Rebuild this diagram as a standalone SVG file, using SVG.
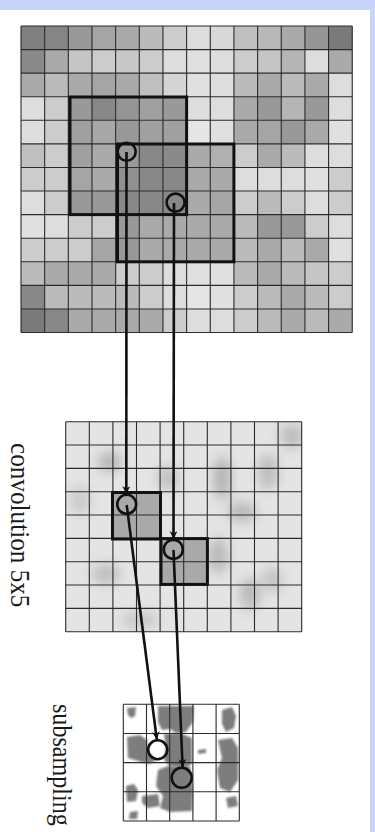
<svg xmlns="http://www.w3.org/2000/svg" width="375" height="832" viewBox="0 0 375 832">
<style>
.c rect{stroke:none}
.grid{fill:none;stroke:#2b2b2b;stroke-width:1.1}
.win{fill:none;stroke:#111;stroke-width:3}
.ring{fill:none;stroke:#111;stroke-width:2.6}
.conn{stroke:#111;stroke-width:2.6;fill:none;marker-end:url(#ah)}
.lbl{font-family:"Liberation Serif","DejaVu Serif",serif;font-size:28px;fill:#1a1a1a}
.blob{fill:#8f8f8f;filter:url(#bl)}
.dark{fill:#7d7d7d;filter:url(#bl2)}
</style>
<defs>
<marker id="ah" viewBox="0 0 10 10" refX="10" refY="5" markerWidth="9" markerHeight="8" markerUnits="userSpaceOnUse" orient="auto">
<path d="M0,0 L10,5 L0,10 L3,5 Z" fill="#111"/>
</marker>
<filter id="bl" x="-50%" y="-50%" width="200%" height="200%"><feGaussianBlur stdDeviation="6"/></filter>
<filter id="bl2" x="-20%" y="-20%" width="140%" height="140%"><feGaussianBlur stdDeviation="1.2"/></filter>
<clipPath id="mclip"><rect x="65.7" y="421.7" width="236" height="210"/></clipPath>
<clipPath id="sclip"><rect x="123.3" y="704.3" width="116" height="116.7"/></clipPath>
</defs>
<rect x="0" y="0" width="375" height="832" fill="#c9d4fa"/>
<rect x="0" y="10" width="370" height="822" fill="#ffffff"/>

<g id="input-map">
<g class="c">
<g transform="translate(0,26)">
<rect x="21" width="23.7" height="23.6" fill="#808080"/><rect x="44.66" width="23.7" height="23.6" fill="#858585"/><rect x="68.32" width="23.7" height="23.6" fill="#999999"/><rect x="91.98" width="23.7" height="23.6" fill="#a5a5a5"/><rect x="115.64" width="23.7" height="23.6" fill="#aaaaaa"/><rect x="139.3" width="23.7" height="23.6" fill="#bbbbbb"/><rect x="162.96" width="23.7" height="23.6" fill="#cccccc"/><rect x="186.62" width="23.7" height="23.6" fill="#dddddd"/><rect x="210.28" width="23.7" height="23.6" fill="#d8d8d8"/><rect x="233.94" width="23.7" height="23.6" fill="#c0c0c0"/><rect x="257.6" width="23.7" height="23.6" fill="#b8b8b8"/><rect x="281.26" width="23.7" height="23.6" fill="#aaaaaa"/><rect x="304.92" width="23.7" height="23.6" fill="#959595"/><rect x="328.58" width="23.7" height="23.6" fill="#7a7a7a"/>
</g>
<g transform="translate(0,49.58)">
<rect x="21" width="23.7" height="23.6" fill="#8a8a8a"/><rect x="44.66" width="23.7" height="23.6" fill="#aaaaaa"/><rect x="68.32" width="23.7" height="23.6" fill="#c5c5c5"/><rect x="91.98" width="23.7" height="23.6" fill="#cccccc"/><rect x="115.64" width="23.7" height="23.6" fill="#c8c8c8"/><rect x="139.3" width="23.7" height="23.6" fill="#cccccc"/><rect x="162.96" width="23.7" height="23.6" fill="#dddddd"/><rect x="186.62" width="23.7" height="23.6" fill="#e0e0e0"/><rect x="210.28" width="23.7" height="23.6" fill="#dddddd"/><rect x="233.94" width="23.7" height="23.6" fill="#cccccc"/><rect x="257.6" width="23.7" height="23.6" fill="#c5c5c5"/><rect x="281.26" width="23.7" height="23.6" fill="#b5b5b5"/><rect x="304.92" width="23.7" height="23.6" fill="#dddddd"/><rect x="328.58" width="23.7" height="23.6" fill="#aaaaaa"/>
</g>
<g transform="translate(0,73.16)">
<rect x="21" width="23.7" height="23.6" fill="#aaaaaa"/><rect x="44.66" width="23.7" height="23.6" fill="#bbbbbb"/><rect x="68.32" width="23.7" height="23.6" fill="#aaaaaa"/><rect x="91.98" width="23.7" height="23.6" fill="#a5a5a5"/><rect x="115.64" width="23.7" height="23.6" fill="#aaaaaa"/><rect x="139.3" width="23.7" height="23.6" fill="#c0c0c0"/><rect x="162.96" width="23.7" height="23.6" fill="#d5d5d5"/><rect x="186.62" width="23.7" height="23.6" fill="#e0e0e0"/><rect x="210.28" width="23.7" height="23.6" fill="#dddddd"/><rect x="233.94" width="23.7" height="23.6" fill="#bbbbbb"/><rect x="257.6" width="23.7" height="23.6" fill="#aaaaaa"/><rect x="281.26" width="23.7" height="23.6" fill="#bbbbbb"/><rect x="304.92" width="23.7" height="23.6" fill="#aaaaaa"/><rect x="328.58" width="23.7" height="23.6" fill="#dddddd"/>
</g>
<g transform="translate(0,96.74)">
<rect x="21" width="23.7" height="23.6" fill="#dddddd"/><rect x="44.66" width="23.7" height="23.6" fill="#cccccc"/><rect x="68.32" width="23.7" height="23.6" fill="#999999"/><rect x="91.98" width="23.7" height="23.6" fill="#888888"/><rect x="115.64" width="23.7" height="23.6" fill="#959595"/><rect x="139.3" width="23.7" height="23.6" fill="#a0a0a0"/><rect x="162.96" width="23.7" height="23.6" fill="#999999"/><rect x="186.62" width="23.7" height="23.6" fill="#dddddd"/><rect x="210.28" width="23.7" height="23.6" fill="#dddddd"/><rect x="233.94" width="23.7" height="23.6" fill="#aaaaaa"/><rect x="257.6" width="23.7" height="23.6" fill="#999999"/><rect x="281.26" width="23.7" height="23.6" fill="#b5b5b5"/><rect x="304.92" width="23.7" height="23.6" fill="#999999"/><rect x="328.58" width="23.7" height="23.6" fill="#dddddd"/>
</g>
<g transform="translate(0,120.32)">
<rect x="21" width="23.7" height="23.6" fill="#dddddd"/><rect x="44.66" width="23.7" height="23.6" fill="#cccccc"/><rect x="68.32" width="23.7" height="23.6" fill="#a0a0a0"/><rect x="91.98" width="23.7" height="23.6" fill="#a8a8a8"/><rect x="115.64" width="23.7" height="23.6" fill="#999999"/><rect x="139.3" width="23.7" height="23.6" fill="#a0a0a0"/><rect x="162.96" width="23.7" height="23.6" fill="#a0a0a0"/><rect x="186.62" width="23.7" height="23.6" fill="#e5e5e5"/><rect x="210.28" width="23.7" height="23.6" fill="#e0e0e0"/><rect x="233.94" width="23.7" height="23.6" fill="#aaaaaa"/><rect x="257.6" width="23.7" height="23.6" fill="#a5a5a5"/><rect x="281.26" width="23.7" height="23.6" fill="#999999"/><rect x="304.92" width="23.7" height="23.6" fill="#aaaaaa"/><rect x="328.58" width="23.7" height="23.6" fill="#e0e0e0"/>
</g>
<g transform="translate(0,143.9)">
<rect x="21" width="23.7" height="23.6" fill="#c0c0c0"/><rect x="44.66" width="23.7" height="23.6" fill="#cccccc"/><rect x="68.32" width="23.7" height="23.6" fill="#a0a0a0"/><rect x="91.98" width="23.7" height="23.6" fill="#aaaaaa"/><rect x="115.64" width="23.7" height="23.6" fill="#999999"/><rect x="139.3" width="23.7" height="23.6" fill="#888888"/><rect x="162.96" width="23.7" height="23.6" fill="#8a8a8a"/><rect x="186.62" width="23.7" height="23.6" fill="#aaaaaa"/><rect x="210.28" width="23.7" height="23.6" fill="#b0b0b0"/><rect x="233.94" width="23.7" height="23.6" fill="#cccccc"/><rect x="257.6" width="23.7" height="23.6" fill="#aaaaaa"/><rect x="281.26" width="23.7" height="23.6" fill="#bbbbbb"/><rect x="304.92" width="23.7" height="23.6" fill="#dddddd"/><rect x="328.58" width="23.7" height="23.6" fill="#dddddd"/>
</g>
<g transform="translate(0,167.48)">
<rect x="21" width="23.7" height="23.6" fill="#cccccc"/><rect x="44.66" width="23.7" height="23.6" fill="#cccccc"/><rect x="68.32" width="23.7" height="23.6" fill="#a5a5a5"/><rect x="91.98" width="23.7" height="23.6" fill="#aaaaaa"/><rect x="115.64" width="23.7" height="23.6" fill="#909090"/><rect x="139.3" width="23.7" height="23.6" fill="#888888"/><rect x="162.96" width="23.7" height="23.6" fill="#888888"/><rect x="186.62" width="23.7" height="23.6" fill="#aaaaaa"/><rect x="210.28" width="23.7" height="23.6" fill="#aaaaaa"/><rect x="233.94" width="23.7" height="23.6" fill="#dddddd"/><rect x="257.6" width="23.7" height="23.6" fill="#dddddd"/><rect x="281.26" width="23.7" height="23.6" fill="#dddddd"/><rect x="304.92" width="23.7" height="23.6" fill="#e0e0e0"/><rect x="328.58" width="23.7" height="23.6" fill="#cccccc"/>
</g>
<g transform="translate(0,191.06)">
<rect x="21" width="23.7" height="23.6" fill="#dddddd"/><rect x="44.66" width="23.7" height="23.6" fill="#cccccc"/><rect x="68.32" width="23.7" height="23.6" fill="#999999"/><rect x="91.98" width="23.7" height="23.6" fill="#999999"/><rect x="115.64" width="23.7" height="23.6" fill="#888888"/><rect x="139.3" width="23.7" height="23.6" fill="#888888"/><rect x="162.96" width="23.7" height="23.6" fill="#888888"/><rect x="186.62" width="23.7" height="23.6" fill="#aaaaaa"/><rect x="210.28" width="23.7" height="23.6" fill="#a5a5a5"/><rect x="233.94" width="23.7" height="23.6" fill="#cccccc"/><rect x="257.6" width="23.7" height="23.6" fill="#bbbbbb"/><rect x="281.26" width="23.7" height="23.6" fill="#cccccc"/><rect x="304.92" width="23.7" height="23.6" fill="#dddddd"/><rect x="328.58" width="23.7" height="23.6" fill="#cccccc"/>
</g>
<g transform="translate(0,214.64)">
<rect x="21" width="23.7" height="23.6" fill="#e0e0e0"/><rect x="44.66" width="23.7" height="23.6" fill="#dddddd"/><rect x="68.32" width="23.7" height="23.6" fill="#cccccc"/><rect x="91.98" width="23.7" height="23.6" fill="#cccccc"/><rect x="115.64" width="23.7" height="23.6" fill="#999999"/><rect x="139.3" width="23.7" height="23.6" fill="#aaaaaa"/><rect x="162.96" width="23.7" height="23.6" fill="#aaaaaa"/><rect x="186.62" width="23.7" height="23.6" fill="#aaaaaa"/><rect x="210.28" width="23.7" height="23.6" fill="#aaaaaa"/><rect x="233.94" width="23.7" height="23.6" fill="#bbbbbb"/><rect x="257.6" width="23.7" height="23.6" fill="#999999"/><rect x="281.26" width="23.7" height="23.6" fill="#999999"/><rect x="304.92" width="23.7" height="23.6" fill="#cccccc"/><rect x="328.58" width="23.7" height="23.6" fill="#dddddd"/>
</g>
<g transform="translate(0,238.22)">
<rect x="21" width="23.7" height="23.6" fill="#cccccc"/><rect x="44.66" width="23.7" height="23.6" fill="#cccccc"/><rect x="68.32" width="23.7" height="23.6" fill="#cccccc"/><rect x="91.98" width="23.7" height="23.6" fill="#a5a5a5"/><rect x="115.64" width="23.7" height="23.6" fill="#999999"/><rect x="139.3" width="23.7" height="23.6" fill="#aaaaaa"/><rect x="162.96" width="23.7" height="23.6" fill="#aaaaaa"/><rect x="186.62" width="23.7" height="23.6" fill="#aaaaaa"/><rect x="210.28" width="23.7" height="23.6" fill="#aaaaaa"/><rect x="233.94" width="23.7" height="23.6" fill="#bbbbbb"/><rect x="257.6" width="23.7" height="23.6" fill="#aaaaaa"/><rect x="281.26" width="23.7" height="23.6" fill="#bbbbbb"/><rect x="304.92" width="23.7" height="23.6" fill="#aaaaaa"/><rect x="328.58" width="23.7" height="23.6" fill="#e0e0e0"/>
</g>
<g transform="translate(0,261.8)">
<rect x="21" width="23.7" height="23.6" fill="#bbbbbb"/><rect x="44.66" width="23.7" height="23.6" fill="#aaaaaa"/><rect x="68.32" width="23.7" height="23.6" fill="#aaaaaa"/><rect x="91.98" width="23.7" height="23.6" fill="#aaaaaa"/><rect x="115.64" width="23.7" height="23.6" fill="#cccccc"/><rect x="139.3" width="23.7" height="23.6" fill="#cccccc"/><rect x="162.96" width="23.7" height="23.6" fill="#dddddd"/><rect x="186.62" width="23.7" height="23.6" fill="#e0e0e0"/><rect x="210.28" width="23.7" height="23.6" fill="#e0e0e0"/><rect x="233.94" width="23.7" height="23.6" fill="#bbbbbb"/><rect x="257.6" width="23.7" height="23.6" fill="#aaaaaa"/><rect x="281.26" width="23.7" height="23.6" fill="#bbbbbb"/><rect x="304.92" width="23.7" height="23.6" fill="#c5c5c5"/><rect x="328.58" width="23.7" height="23.6" fill="#cccccc"/>
</g>
<g transform="translate(0,285.38)">
<rect x="21" width="23.7" height="23.6" fill="#888888"/><rect x="44.66" width="23.7" height="23.6" fill="#bbbbbb"/><rect x="68.32" width="23.7" height="23.6" fill="#bbbbbb"/><rect x="91.98" width="23.7" height="23.6" fill="#bbbbbb"/><rect x="115.64" width="23.7" height="23.6" fill="#bbbbbb"/><rect x="139.3" width="23.7" height="23.6" fill="#cccccc"/><rect x="162.96" width="23.7" height="23.6" fill="#dddddd"/><rect x="186.62" width="23.7" height="23.6" fill="#e5e5e5"/><rect x="210.28" width="23.7" height="23.6" fill="#e0e0e0"/><rect x="233.94" width="23.7" height="23.6" fill="#cccccc"/><rect x="257.6" width="23.7" height="23.6" fill="#bbbbbb"/><rect x="281.26" width="23.7" height="23.6" fill="#aaaaaa"/><rect x="304.92" width="23.7" height="23.6" fill="#bbbbbb"/><rect x="328.58" width="23.7" height="23.6" fill="#cccccc"/>
</g>
<g transform="translate(0,308.96)">
<rect x="21" width="23.7" height="23.6" fill="#7a7a7a"/><rect x="44.66" width="23.7" height="23.6" fill="#888888"/><rect x="68.32" width="23.7" height="23.6" fill="#aaaaaa"/><rect x="91.98" width="23.7" height="23.6" fill="#aaaaaa"/><rect x="115.64" width="23.7" height="23.6" fill="#aaaaaa"/><rect x="139.3" width="23.7" height="23.6" fill="#aaaaaa"/><rect x="162.96" width="23.7" height="23.6" fill="#cccccc"/><rect x="186.62" width="23.7" height="23.6" fill="#dddddd"/><rect x="210.28" width="23.7" height="23.6" fill="#dddddd"/><rect x="233.94" width="23.7" height="23.6" fill="#cccccc"/><rect x="257.6" width="23.7" height="23.6" fill="#bbbbbb"/><rect x="281.26" width="23.7" height="23.6" fill="#aaaaaa"/><rect x="304.92" width="23.7" height="23.6" fill="#bbbbbb"/><rect x="328.58" width="23.7" height="23.6" fill="#aaaaaa"/>
</g>
</g>
<path class="grid" d="M21,26V332.54M44.66,26V332.54M68.32,26V332.54M91.98,26V332.54M115.64,26V332.54M139.3,26V332.54M162.96,26V332.54M186.62,26V332.54M210.28,26V332.54M233.94,26V332.54M257.6,26V332.54M281.26,26V332.54M304.92,26V332.54M328.58,26V332.54M352.24,26V332.54M21,26H352.24M21,49.58H352.24M21,73.16H352.24M21,96.74H352.24M21,120.32H352.24M21,143.9H352.24M21,167.48H352.24M21,191.06H352.24M21,214.64H352.24M21,238.22H352.24M21,261.8H352.24M21,285.38H352.24M21,308.96H352.24M21,332.54H352.24"/>
<rect class="win" x="70" y="97" width="116.6" height="117.6"/>
<rect class="win" x="117.5" y="144" width="116.4" height="117.8"/>
<circle class="ring" cx="126.7" cy="151.7" r="9"/>
<circle class="ring" cx="175.6" cy="202.6" r="9"/>
</g>

<g id="convolution-map">
<rect x="65.7" y="421.7" width="236" height="210" fill="#e4e4e4"/>
<g clip-path="url(#mclip)">
<ellipse class="blob" cx="110" cy="462" rx="12" ry="10" opacity="0.55"/>
<ellipse class="blob" cx="168" cy="478" rx="10" ry="12" opacity="0.45"/>
<ellipse class="blob" cx="222" cy="478" rx="8" ry="22" opacity="0.6"/>
<ellipse class="blob" cx="242" cy="512" rx="14" ry="10" opacity="0.5"/>
<ellipse class="blob" cx="268" cy="472" rx="10" ry="18" opacity="0.45"/>
<ellipse class="blob" cx="292" cy="436" rx="12" ry="12" opacity="0.45"/>
<ellipse class="blob" cx="218" cy="556" rx="10" ry="18" opacity="0.5"/>
<ellipse class="blob" cx="106" cy="574" rx="14" ry="10" opacity="0.45"/>
<ellipse class="blob" cx="250" cy="594" rx="10" ry="16" opacity="0.5"/>
<ellipse class="blob" cx="272" cy="580" rx="10" ry="12" opacity="0.4"/>
<ellipse class="blob" cx="140" cy="620" rx="18" ry="8" opacity="0.35"/>
<ellipse class="blob" cx="80" cy="500" rx="10" ry="14" opacity="0.3"/>
</g>
<rect x="112.9" y="491.7" width="47.2" height="46.7" fill="#a9a9a9"/>
<rect x="160.1" y="538.4" width="47.2" height="46.6" fill="#a9a9a9"/>
<path class="grid" d="M65.7,421.7V631.7M89.3,421.7V631.7M112.9,421.7V631.7M136.5,421.7V631.7M160.1,421.7V631.7M183.7,421.7V631.7M207.3,421.7V631.7M230.9,421.7V631.7M254.5,421.7V631.7M278.1,421.7V631.7M301.7,421.7V631.7M65.7,421.7H301.7M65.7,445H301.7M65.7,468.4H301.7M65.7,491.7H301.7M65.7,515H301.7M65.7,538.4H301.7M65.7,561.7H301.7M65.7,585H301.7M65.7,608.4H301.7M65.7,631.7H301.7"/>
<rect class="win" x="112.5" y="492.5" width="48" height="46.5"/>
<rect class="win" x="161" y="538.6" width="46.4" height="45.8"/>
<circle class="ring" cx="126.7" cy="504.3" r="9.5" fill="#a9a9a9"/>
<circle class="ring" cx="173.3" cy="549.4" r="9.5" fill="#a9a9a9"/>
</g>

<g id="subsampling-map">
<rect x="123.3" y="704.3" width="116" height="116.7" fill="#ffffff"/>
<g clip-path="url(#sclip)">
<path class="dark" d="M127,708 L136,707 L135,716 L131,718 L128,715 Z"/>
<path class="dark" d="M158,706 L194,706 L193,722 L186,732 L176,733 L170,729 L162,730 L158,722 Z"/>
<path class="dark" d="M127,737 L140,735 L147,740 L148,752 L157,760 L149,764 L141,762 L135,760 L128,758 Z"/>
<path class="dark" d="M164,734 L180,733 L192,738 L192,764 L184,768 L170,766 L164,760 L166,748 Z"/>
<path class="dark" d="M158,770 L168,766 L190,766 L193,790 L192,811 L170,812 L160,808 L163,796 L156,786 Z"/>
<path class="dark" d="M126,786 L134,784 L138,790 L136,801 L127,802 Z"/>
<path class="dark" d="M142,796 L158,794 L160,806 L148,808 L142,803 Z"/>
<path class="dark" d="M222,710 L232,707 L236,716 L234,728 L226,732 L222,724 Z"/>
<path class="dark" d="M218,740 L232,738 L238,748 L238,780 L230,792 L220,788 L217,770 L222,758 Z"/>
<path class="dark" d="M226,798 L236,796 L238,806 L228,808 Z"/>
<path class="dark" d="M198,750 L206,749 L206,753 L198,754 Z"/>
<path class="dark" d="M130,812 L138,811 L137,819 L129,819 Z"/>
</g>
<path class="grid" d="M123.3,704.3V821M146.5,704.3V821M169.7,704.3V821M192.9,704.3V821M216.1,704.3V821M239.3,704.3V821M123.3,704.3H239.3M123.3,733.5H239.3M123.3,762.6H239.3M123.3,791.8H239.3M123.3,821H239.3"/>
<circle class="ring" cx="157.7" cy="749.7" r="9.5" fill="#ffffff"/>
<circle class="ring" cx="181.7" cy="777.8" r="10" fill="#ffffff"/>
</g>

<g id="connectors">
<line class="conn" x1="126.5" y1="152" x2="126.3" y2="494"/>
<line class="conn" x1="174" y1="203" x2="173.5" y2="539"/>
<line class="conn" x1="126.7" y1="505" x2="156.8" y2="739.5"/>
<line class="conn" x1="173.5" y1="550" x2="182.6" y2="767"/>
</g>

<g id="labels">
<text class="lbl" transform="translate(10.5,443) rotate(90) scale(0.9,1)">convolution 5x5</text>
<text class="lbl" transform="translate(53,704) rotate(90) scale(0.86,1)">subsampling</text>
</g>
</svg>
